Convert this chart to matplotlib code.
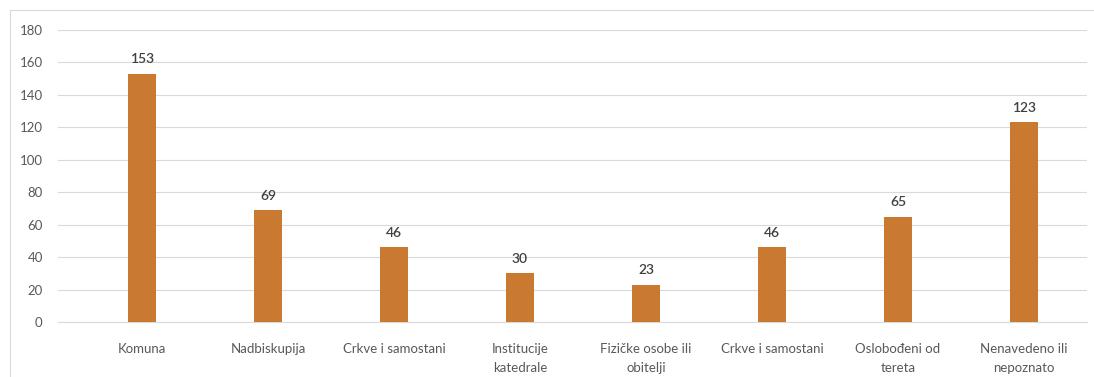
import matplotlib.pyplot as plt
from matplotlib.patches import Rectangle

categories = [
    "Komuna",
    "Nadbiskupija",
    "Crkve i samostani",
    "Institucije\nkatedrale",
    "Fizičke osobe ili\nobitelji",
    "Crkve i samostani",
    "Oslobođeni od\ntereta",
    "Nenavedeno ili\nnepoznato",
]
values = [153, 69, 46, 30, 23, 46, 65, 123]
y_ticks = [0, 20, 40, 60, 80, 100, 120, 140, 160, 180]

bar_color = "#C97A30"
grid_color = "#D9D9D9"
text_color = "#595959"

plt.rcParams["font.family"] = ["Lato", "DejaVu Sans"]

W, H = 1094, 377
fig = plt.figure(figsize=(W / 100, H / 100), dpi=100)

# light chart-area frame
fig.patches.append(Rectangle((10 / W, -0.1), 1.2, (H - 10) / H + 0.1,
                             transform=fig.transFigure, fill=False,
                             edgecolor="#D9D9D9", lw=0.8))

ax = fig.add_axes([58 / W, (H - 322) / H, (1087 - 58) / W, (322 - 30) / H])

x = list(range(len(categories)))
bars = ax.bar(x, values, width=0.23, color=bar_color, zorder=3)
ax.bar_label(bars, padding=6, fontsize=10, color="#404040", fontweight="semibold")

ax.set_ylim(0, 180)
ax.set_xlim(-0.5 - 21 / 126, len(categories) - 0.5)
ax.set_yticks(y_ticks)
ax.set_xticks(x)
ax.set_xticklabels(categories, linespacing=1.75)

ax.grid(axis="y", color=grid_color, lw=0.8, zorder=0)
for side in ("top", "right", "left"):
    ax.spines[side].set_visible(False)
ax.spines["bottom"].set_color(grid_color)
ax.spines["bottom"].set_linewidth(0.8)

ax.tick_params(axis="y", length=0, pad=11, labelsize=9.5, labelcolor=text_color)
ax.tick_params(axis="x", length=0, pad=15, labelsize=9.5, labelcolor=text_color)

fig.savefig("out.png", dpi=100)
